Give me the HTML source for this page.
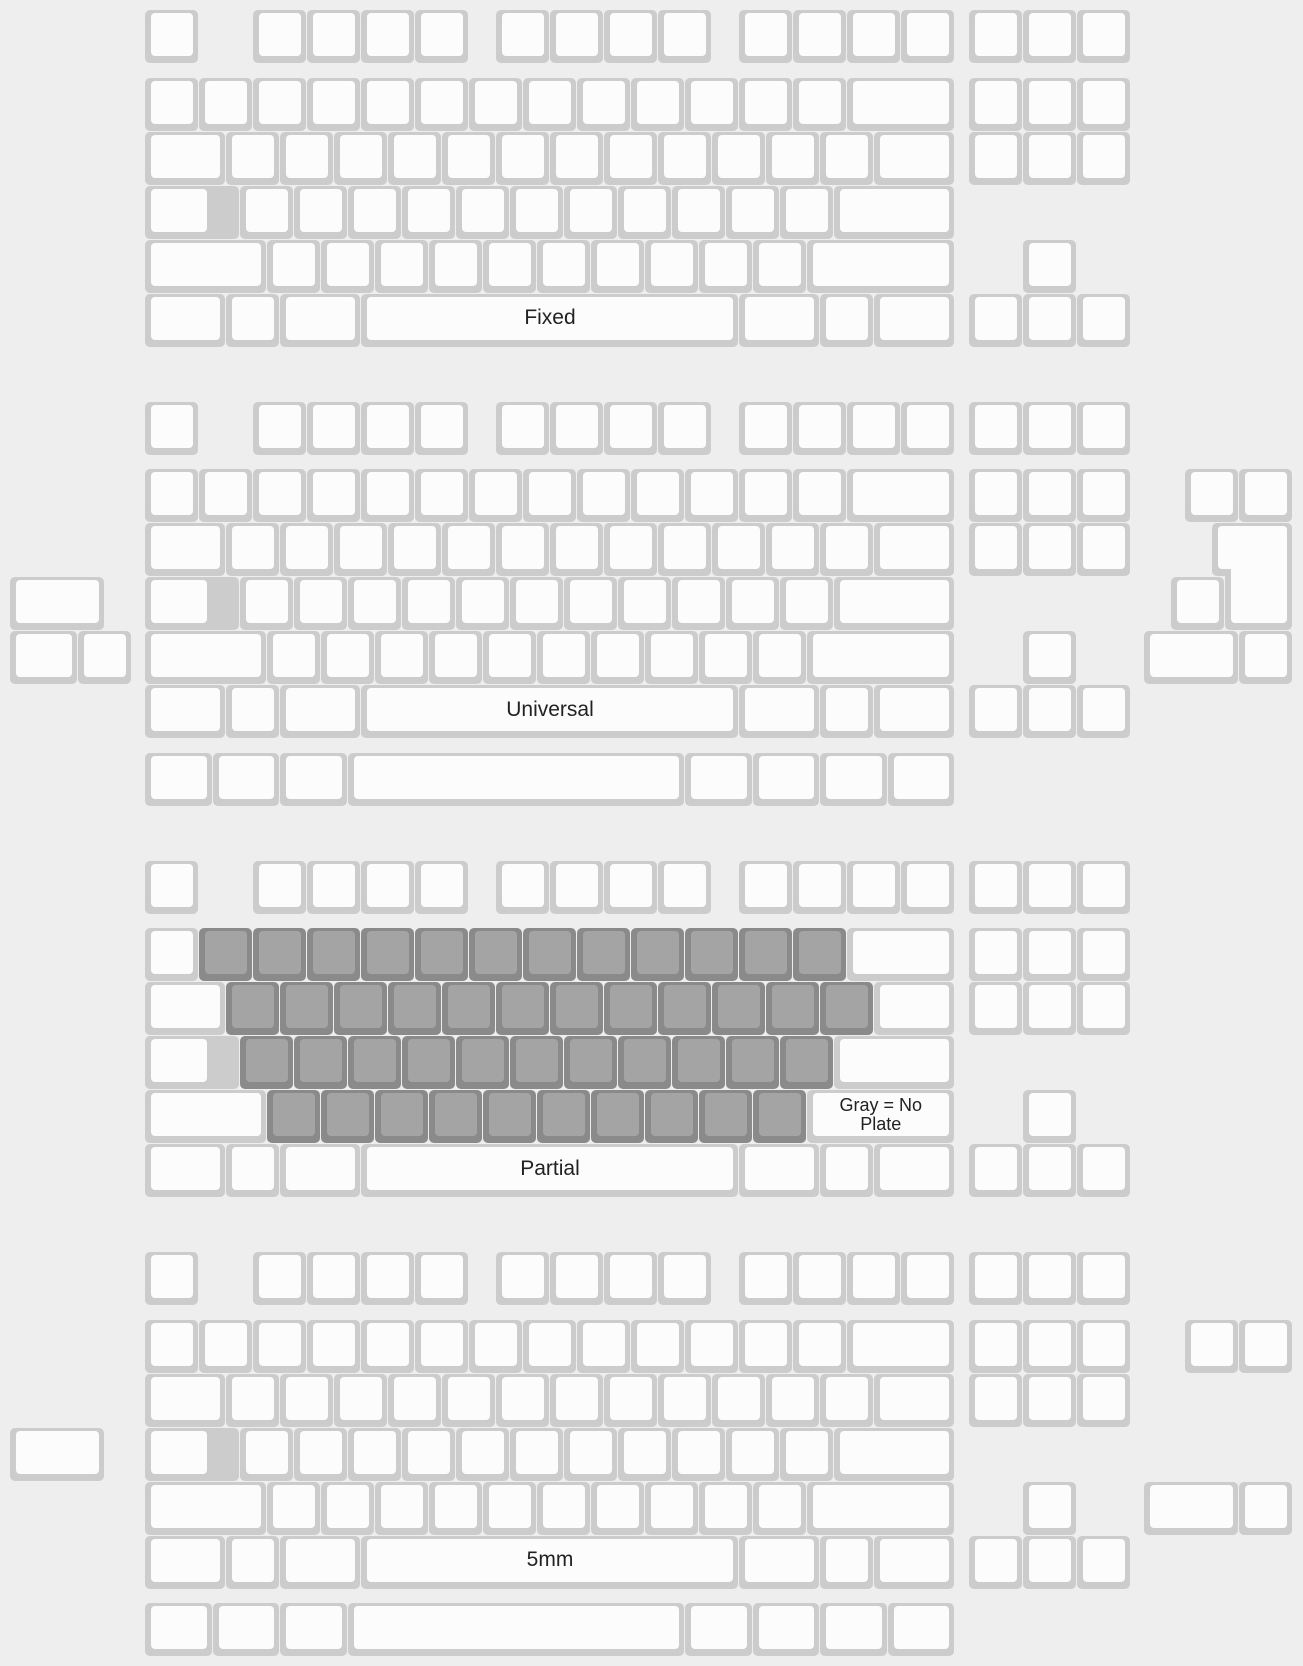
<!DOCTYPE html>
<html><head><meta charset="utf-8">
<style>
html,body{margin:0;padding:0;}
body{width:1303px;height:1666px;background:#eeeeee;position:relative;overflow:hidden;font-family:"Liberation Sans",sans-serif;}
.o{position:absolute;background:#cccccc;border-radius:5px;}
.i{position:absolute;background:#fcfcfc;border-radius:4px;display:flex;align-items:center;justify-content:center;color:#222;font-size:21px;text-align:center;line-height:20px;}
.g .o,.o.g{background:#8a8a8a;}
.i.g{background:#a4a4a4;}
</style></head>
<body>
<div id="root"></div>
<script>
const U=54, OX=10, OY=10;
const root=document.getElementById('root');
function box(cls,l,t,w,h){const d=document.createElement('div');d.className=cls;d.style.left=l+'px';d.style.top=t+'px';d.style.width=w+'px';d.style.height=h+'px';root.appendChild(d);return d;}
function key(x,y,w,gray,label,name,innerW){
  const l=OX+x*U,t=OY+y*U;
  const o=box('o'+(gray?' g':''),l,t,w*U-1,U-1);
  
  
  const iw=(innerW||w)*U-12;
  const i=box('i'+(gray?' g':''),l+6,t+3,iw,U-11);
  
  
  if(label){i.innerHTML=label;if(label.indexOf('<br>')>=0){i.style.fontSize='18px';i.style.lineHeight='19px';}}
}
function isoEnter(x,y){
  const l=OX+x*U,t=OY+y*U;
  const a=box('o',l,t,1.5*U-1,U-1);
  
  
  const b=box('o',l+0.25*U,t,1.25*U-1,2*U-1);
  
  
  const c=box('i',l+6,t+3,1.5*U-12,U-11);c.style.borderBottomRightRadius='0';
  
  
  const d=box('i',l+0.25*U+6,t+3,1.25*U-12,2*U-11);
  
  
}
function row(x,y,widths,grayIdx,labels){
  let cx=x;
  widths.forEach((w,k)=>{key(cx,y,w,grayIdx&&grayIdx.includes(k),labels&&labels[k],'key');cx+=w;});
}
function block(y0,label,partial){
  // F row
  key(2.5,y0,1,false,'','esc-key');
  [4.5,9,13.5].forEach(s=>{for(let k=0;k<4;k++)key(s+k,y0,1,false,'','function-key');});
  for(let k=0;k<3;k++)key(17.75+k,y0,1,false,'','nav-key');
  const r1=y0+1.25;
  const rng=(a,b)=>{const r=[];for(let k=a;k<=b;k++)r.push(k);return r;};
  row(2.5,r1,[1,1,1,1,1,1,1,1,1,1,1,1,1,2],partial?rng(1,12):null);
  for(let k=0;k<3;k++)key(17.75+k,r1,1,false,'','nav-key');
  row(2.5,r1+1,[1.5,1,1,1,1,1,1,1,1,1,1,1,1,1.5],partial?rng(1,12):null);
  for(let k=0;k<3;k++)key(17.75+k,r1+1,1,false,'','nav-key');
  key(2.5,r1+2,1.75,false,'','caps-lock-key',1.25);
  row(4.25,r1+2,[1,1,1,1,1,1,1,1,1,1,1,2.25],partial?rng(0,10):null);
  row(2.5,r1+3,[2.25,1,1,1,1,1,1,1,1,1,1,2.75],partial?rng(1,10):null,partial?{11:'Gray = No<br>Plate'}:null);
  key(18.75,r1+3,1,false,'','arrow-up-key');
  row(2.5,r1+4,[1.5,1,1.5,7,1.5,1,1.5],null,{3:label});
  for(let k=0;k<3;k++)key(17.75+k,r1+4,1,false,'','arrow-key');
}
block(0,'Fixed',false);
block(7.25,'Universal',false);
// universal extras
row(2.5,13.75,[1.25,1.25,1.25,6.25,1.25,1.25,1.25,1.25]);
key(21.75,8.5,1,false,'','extra-key');key(22.75,8.5,1,false,'','extra-key');
isoEnter(22.25,9.5);
key(21.5,10.5,1,false,'','iso-hash-key');
key(21,11.5,1.75,false,'','split-rshift-key');key(22.75,11.5,1,false,'','extra-key');
key(0,10.5,1.75,false,'','left-caps-alt');
key(0,11.5,1.25,false,'','iso-lshift');key(1.25,11.5,1,false,'','iso-extra-key');
block(15.75,'Partial',true);
block(23,'5mm',false);
row(2.5,29.5,[1.25,1.25,1.25,6.25,1.25,1.25,1.25,1.25]);
key(21.75,24.25,1,false,'','extra-key');key(22.75,24.25,1,false,'','extra-key');
key(0,26.25,1.75,false,'','left-caps-alt');
key(21,27.25,1.75,false,'','split-rshift-key');key(22.75,27.25,1,false,'','extra-key');
</script>
</body></html>
